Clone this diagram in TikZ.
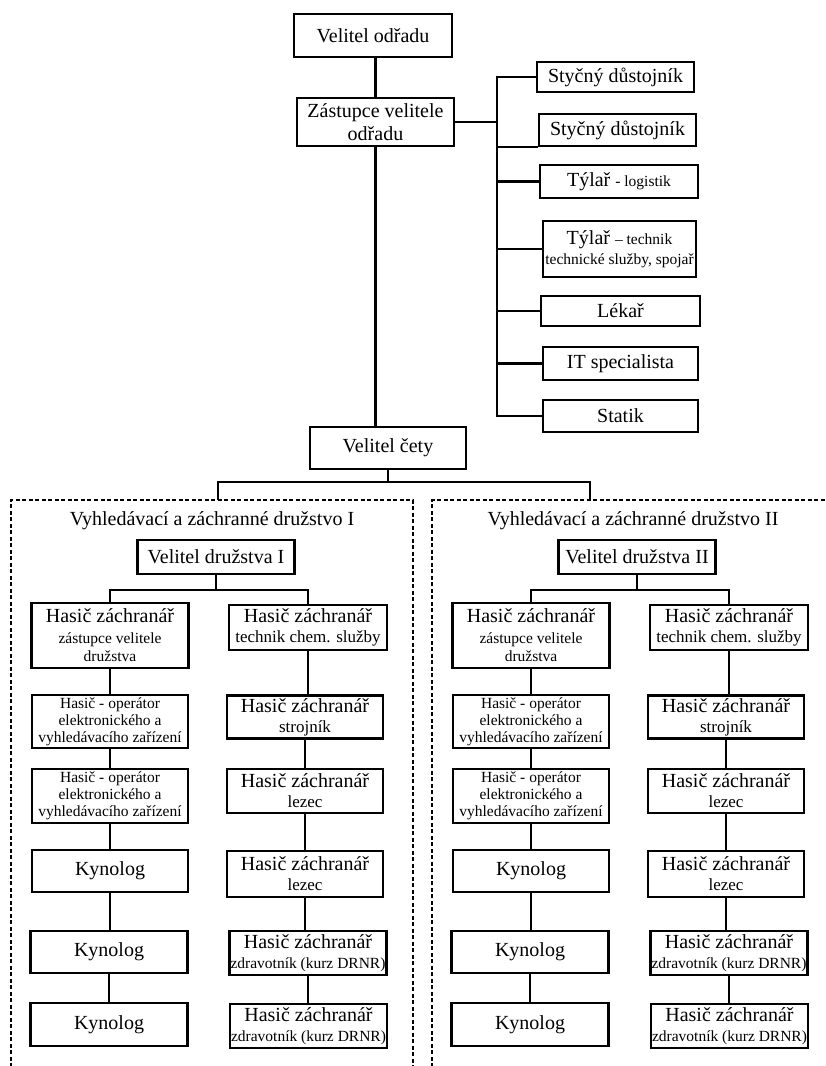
\documentclass[tikz,border=0pt]{standalone}
\usepackage{fontspec}
\setmainfont{Liberation Serif}
\usetikzlibrary{positioning, calc}
\newcommand{\sm}{\fontsize{17}{19}\selectfont}
\newcommand{\tn}{\fontsize{15.5}{17}\selectfont}

\begin{document}
\begin{tikzpicture}[x=1pt, y=-1pt,
  every node/.style={font=\fontsize{20}{23}\selectfont},
  role/.style 2 args={draw, line width=2.6pt, align=center, inner sep=1pt,
    minimum width=#1, minimum height=#2},
  link/.style={line width=2.2pt},
  teamframe/.style={line width=1.6pt, dash pattern=on 4pt off 2.5pt}]
    \useasboundingbox (0,0) rectangle (826,1066);
    \clip (0,0) rectangle (826,1066);

    % Command of the unit
    \node[role={158}{43}] (odrad) at (373,35.5) {Velitel odřadu};
    \node[role={157}{48}] (zast) at (375.5,122) {Zástupce velitele\\odřadu};
    \draw[link] (zast.north |- odrad.south) -- (zast.north);

    % Staff on the right
    \node[role={157}{30}] (sty1) at (615.5,77) {Styčný důstojník};
    \node[role={157}{32}] (sty2) at (617.5,130) {Styčný důstojník};
    \node[role={158}{33}] (tyl1) at (619,181.5) {Týlař {\tn - logistik}};
    \node[role={153}{56}] (tyl2) at (619.5,249) {Týlař {\tn – technik}\\[-3pt]{\tn technické služby, spojař}};
    \node[role={159}{30}] (lekar) at (620.5,311) {Lékař};
    \node[role={155}{33}] (itspec) at (620.5,363.5) {IT specialista};
    \node[role={155}{32}] (statik) at (620.5,416) {Statik};

    \coordinate (bus) at (497,0);
    \draw[link] (sty1.west) -- (sty1.west -| bus) -- (statik.west -| bus) -- (statik.west);
    \draw[link] (zast.east) -- (zast.east -| bus);
    \draw[link] (sty2.south west) -- (sty2.south west -| bus);
    \foreach \n in {tyl1, tyl2, lekar, itspec}
      \draw[link] (\n.west) -- (\n.west -| bus);

    % Platoon
    \node[role={156}{42}] (ceta) at (388,448) {Velitel čety};
    \draw[link] (zast.south) -- (zast.south |- ceta.north);

    \coordinate (split) at (388,482);
    \coordinate (teamI) at (218,500);
    \coordinate (teamII) at (590,500);
    \draw[link] (ceta.south) -- (split);
    \draw[link] (teamI) |- (split) -| (teamII);

    % Search and rescue squads
    \foreach \tm/\dx in {I/0, II/421} {
      \begin{scope}[xshift=\dx]
        \draw[teamframe] (11,1080) -- (11,500) -- (413,500) -- (413,1080);
        \node (title\tm) at (212,521) {Vyhledávací a záchranné družstvo \tm};
        \node[role={157}{34}] (vel\tm) at (216,557) {Velitel družstva \tm};

        \node[role={157}{65}] (zas\tm) at (110,635.5) {Hasič záchranář\\[-2pt]{\tn zástupce velitele}\\[-5pt]{\tn družstva}};
        \node[role={156}{53}, font=\tn] (opa\tm) at (110,721.5) {Hasič - operátor\\elektronického a\\vyhledávacího zařízení};
        \node[role={156}{54}, font=\tn] (opb\tm) at (110,796) {Hasič - operátor\\elektronického a\\vyhledávacího zařízení};
        \node[role={156}{42}] (kyna\tm) at (110,871) {Kynolog};
        \node[role={157}{42}] (kynb\tm) at (109,952) {Kynolog};
        \node[role={157}{43}] (kync\tm) at (109,1024.5) {Kynolog};

        \node[role={158}{45}] (chem\tm) at (308,627.5) {Hasič záchranář\\[-3pt]{\sm technik chem. služby}};
        \node[role={156}{43}] (stroj\tm) at (305,717) {Hasič záchranář\\[-3pt]{\sm strojník}};
        \node[role={156}{44}] (leza\tm) at (305,791) {Hasič záchranář\\[-3pt]{\sm lezec}};
        \node[role={156}{46}] (lezb\tm) at (305,874) {Hasič záchranář\\[-3pt]{\sm lezec}};
        \node[role={155}{44}] (zdra\tm) at (308,953) {Hasič záchranář\\[-3pt]{\tn zdravotník (kurz DRNR)}};
        \node[role={152}{44}] (zdrb\tm) at (308.5,1026) {Hasič záchranář\\[-3pt]{\tn zdravotník (kurz DRNR)}};

        \coordinate (fork\tm) at (216,590);
        \draw[link] (vel\tm.south) -- (fork\tm);
        \draw[link] (zas\tm.north) |- (fork\tm) -| (chem\tm.north);
        \foreach \pa/\pb in {zas/opa, opa/opb, opb/kyna, kyna/kynb, kynb/kync,
                             chem/stroj, stroj/leza, leza/lezb, lezb/zdra, zdra/zdrb}
          \draw[link] (\pa\tm.south) -- (\pa\tm.south |- \pb\tm.north);
      \end{scope}
    }
\end{tikzpicture}
\end{document}
